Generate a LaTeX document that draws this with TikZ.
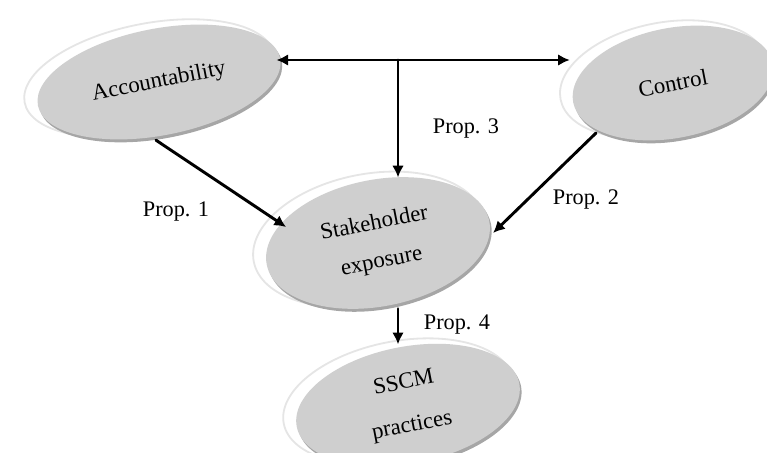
\documentclass[tikz,border=0pt]{standalone}
\usepackage{fontspec}
\setmainfont{Liberation Serif}
\usepackage{tikz}
\usetikzlibrary{shapes,arrows.meta,shadows,calc}

\begin{document}
\begin{tikzpicture}[x=0.03cm, y=-0.03cm, >={Latex[length=10pt,width=10pt]}, line cap=round, line join=round]

\tikzset{
  bubble/.style={ellipse, rotate=11, inner sep=0pt, outer sep=3pt, align=center,
    fill=gray!38, font=\fontsize{19.5}{31}\selectfont,
    general shadow={shadow xshift=-8pt, shadow yshift=3pt, shadow scale=1.03,
      fill=white, draw=gray!20, line width=1.5pt},
    general shadow={shadow xshift=1.5pt, shadow yshift=-2.5pt, fill=gray!70}},
  prop/.style={font=\fontsize{19}{22}\selectfont},
  link/.style={->, line width=2.5pt},
}

\useasboundingbox (0,0) rectangle (767,452);

% --- the four constructs ---
\node[bubble, minimum width=7.4cm, minimum height=3.2cm] (acc) at (159,82) {Accountability};
\node[bubble, minimum width=6.1cm, minimum height=3.3cm] (ctrl) at (673,83) {Control};
\node[bubble, minimum width=6.8cm, minimum height=3.8cm] (stake) at (378,243) {Stakeholder\\[2pt]exposure};
\node[bubble, minimum width=6.8cm, minimum height=3.5cm] (sscm) at (408,405) {SSCM\\[6pt]practices};

% --- links between them ---
\coordinate (hub) at (398,60);
\draw[link, <->, shorten <=-6pt] (acc.east |- hub) -- (ctrl.west |- hub);
\draw[link] (hub) -- (hub |- stake.north);
\draw[link, shorten >=-8pt] (acc.-104) -- (stake.157);
\draw[link] (ctrl.202) -- (stake.-6);
\draw[link] (stake.south -| hub) -- (sscm.north -| hub);

% --- proposition labels ---
\node[prop] (p1) at (176,212) {Prop. 1};
\node[prop] (p2) at (586,199) {Prop. 2};
\node[prop] (p3) at (466,128) {Prop. 3};
\node[prop] (p4) at (457,325) {Prop. 4};

\end{tikzpicture}
\end{document}
